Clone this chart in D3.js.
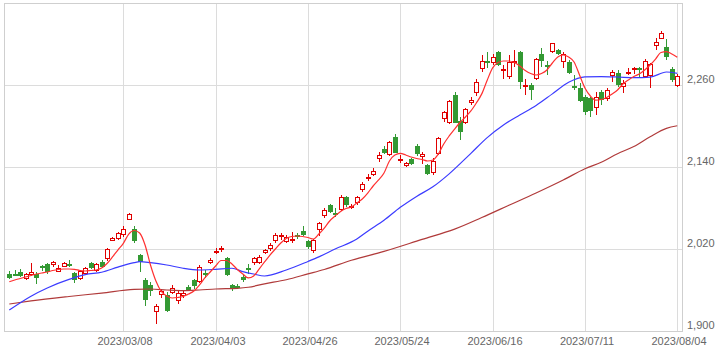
<!DOCTYPE html>
<html>
<head>
<meta charset="utf-8">
<script src="https://cdn.jsdelivr.net/npm/d3@7"></script>
<style>
    body { margin: 0; background: #fff; }
    svg { display: block; }
    .lbl { font-family: "Liberation Sans", Arial, sans-serif; font-size: 11px; fill: #666; }
</style>
</head>
<body>
<svg id="chart" width="720" height="352"></svg>
<script>
// daily OHLC, 2023/02/06 .. 2023/08/04 (one entry per trading day)
const opens = [
    1984, 1984, 1986, 1976, 1982, 1984, 1995, 1998, 1996, 1987,
    1994, 1998, 1985, 1976, 1983, 1999, 1988, 2001, 2005, 2032,
    2034, 2040, 2063, 2049, 2011, 1975, 1967, 1928, 1952, 1953,
    1956, 1944, 1951, 1965, 1974, 1972, 1985, 1999, 2016, 2020,
    2007, 1967, 1966, 1979, 1991.5, 1999, 2000, 2013.7, 2020, 2032,
    2039, 2030, 2031, 2041, 2046, 2031, 2017, 2048, 2069, 2084,
    2072, 2077, 2096, 2081, 2088, 2106, 2124, 2128, 2151, 2167,
    2158, 2184, 2150, 2141.5, 2152, 2171, 2155, 2143, 2131, 2159,
    2210, 2205, 2245, 2208, 2205, 2233, 2249, 2283, 2295, 2292,
    2308, 2281.5, 2272, 2294, 2308, 2258, 2260, 2269, 2305, 2290,
    2308, 2311, 2294, 2293, 2258.5, 2256, 2243, 2240.5, 2227, 2250,
    2239, 2273, 2277, 2256.6, 2278, 2283, 2284.4, 2272.4, 2272.7, 2317,
    2328, 2315.6, 2283, 2259
];
const highs = [
    1988, 1989, 1991, 1985, 1999, 1986, 1997, 1999, 2002, 1996,
    2001, 2004, 1987, 1989, 1994, 2001, 1999, 2004, 2021, 2037,
    2045, 2053, 2072, 2054, 2012, 1977, 1972, 1940, 1962, 1957,
    1967, 1960, 1958, 1968, 1976, 1997, 1989, 2007, 2021, 2024,
    2009, 1969, 1969, 1984, 1998, 2009, 2010.5, 2020.7, 2028.8, 2043.8,
    2043, 2040.5, 2044.4, 2043, 2053.7, 2033.2, 2034.6, 2059.5, 2080, 2086,
    2079.6, 2098.3, 2097.6, 2085.4, 2097.6, 2117.6, 2129.3, 2138.1, 2162, 2170.7,
    2178, 2188.3, 2157.6, 2147.8, 2153.9, 2173.6, 2162.4, 2144.4, 2152.7, 2183.9,
    2222.4, 2238, 2249.3, 2213.6, 2225.9, 2242, 2268.3, 2303.9, 2308.7, 2304.9,
    2309.8, 2289.3, 2303.9, 2310.5, 2309.8, 2268.3, 2262.5, 2299.1, 2313.7, 2295.6,
    2321.9, 2312.7, 2308.7, 2296.6, 2274.6, 2262.2, 2245.4, 2242.9, 2250.2, 2252.7,
    2255.2, 2282, 2282, 2267.3, 2284.4, 2286.8, 2286.3, 2297.6, 2292.6, 2328.3,
    2338.3, 2326.9, 2286.8, 2276.1
];
const lows = [
    1976, 1980, 1979, 1975, 1980, 1969, 1988, 1984, 1994, 1986,
    1993, 1993, 1970, 1975, 1982, 1991, 1986, 1992, 2003, 2031,
    2033, 2038, 2062, 2029, 1987, 1936, 1951, 1910, 1948, 1928,
    1954, 1939, 1949, 1958, 1961, 1970, 1977, 1998, 2012, 2016,
    1980, 1959, 1962, 1971.7, 1984, 1997.3, 1998, 2012, 2017.8, 2029.2,
    2033.2, 2028.3, 2029.5, 2034.2, 2039, 2020, 2014.6, 2039, 2065.8, 2072.7,
    2067.3, 2075.6, 2081.9, 2078.1, 2084.4, 2103.9, 2120, 2126.8, 2146.9, 2159,
    2156.1, 2160, 2146.3, 2139.6, 2142.9, 2156.8, 2144.4, 2128.3, 2128.3, 2157.6,
    2206.3, 2202.9, 2203.7, 2179.5, 2202.2, 2230.7, 2244.3, 2279.5, 2285.6, 2290,
    2287.1, 2268.3, 2269.5, 2286.8, 2253.7, 2245.4, 2237.6, 2267.3, 2286.8, 2274.6,
    2306.1, 2303.2, 2284.4, 2275.4, 2252.7, 2235.1, 2216.1, 2213.2, 2216.1, 2230.7,
    2237.3, 2264.8, 2257.8, 2248.7, 2274.6, 2276.1, 2271.3, 2271.3, 2255.2, 2311.2,
    2326.6, 2296.6, 2263.9, 2256.6
];
const closes = [
    1978, 1983, 1981, 1983, 1986, 1977, 1992, 1986, 2001, 1992,
    1999, 1996, 1975, 1988, 1992, 1992, 1998, 1994, 2020, 2036,
    2044, 2050, 2071, 2031, 2001, 1946, 1959, 1937, 1959, 1929,
    1963, 1956, 1956, 1959, 1966, 1994, 1983, 2004, 2017, 2022,
    1982, 1961, 1964, 1974.6, 1990, 2006.8, 2007.9, 2018.5, 2025.9, 2040,
    2040.5, 2038, 2035, 2037.1, 2040.5, 2023.4, 2033.2, 2057.6, 2077.8, 2074.6,
    2070.2, 2096.5, 2084.4, 2082.9, 2095.7, 2114.7, 2125.8, 2134.6, 2157.1, 2160.9,
    2176.1, 2160.9, 2151.3, 2145.9, 2144.8, 2159, 2158.6, 2130.2, 2148.3, 2182,
    2220, 2236.1, 2205.1, 2190.5, 2224.6, 2238, 2264.8, 2294.7, 2292.6, 2300.5,
    2289.3, 2283, 2294.1, 2295.6, 2263.7, 2259.6, 2252.7, 2297.6, 2295.4, 2288.2,
    2321, 2305.8, 2305.7, 2277.1, 2255.2, 2236.6, 2220.9, 2222, 2242, 2238,
    2253.4, 2279, 2260, 2262.9, 2279.7, 2284.4, 2282, 2294.4, 2290.3, 2322.9,
    2336.8, 2301.4, 2267.3, 2273.6
];

// 5-day moving average, one value per trading day
const ma5 = [
    1972.1, 1974.6, 1976.8, 1979, 1981.2, 1983.4, 1984.9, 1986.3, 1988.5, 1990,
    1990.7, 1990.7, 1990.3, 1988.5, 1987.8, 1988.5, 1989.3, 1992.2, 1998.8, 2008.3,
    2018.5, 2028.3, 2041.9, 2047.1, 2043.4, 2025.9, 1996.6, 1973.2, 1957.8, 1951.2,
    1948.3, 1949, 1950.5, 1954.1, 1958.5, 1967.3, 1977.6, 1986.3, 1995.1, 2003.2,
    2003.2, 1998, 1990, 1983.4, 1977.6, 1980.5, 1990.7, 2001, 2011.2, 2020,
    2028.8, 2035.4, 2038.3, 2039, 2038.3, 2036.8, 2034.6, 2041.9, 2050.7, 2061,
    2068.3, 2074.9, 2079.3, 2081.5, 2087.3, 2093.2, 2101.9, 2112.2, 2121, 2131.2,
    2148.8, 2157.6, 2160, 2157.6, 2154.6, 2152.4, 2151, 2148.8, 2150.2, 2159,
    2173.7, 2185.4, 2195.6, 2205.1, 2213.2, 2222, 2233.7, 2247, 2267, 2285,
    2293, 2295.1, 2295.1, 2292.9, 2287.8, 2281.2, 2276.8, 2274.6, 2276.8, 2282,
    2292.2, 2301, 2303.9, 2301, 2293.7, 2274.6, 2255.6, 2243.9, 2238, 2238.8,
    2241.7, 2246.8, 2252.7, 2261.5, 2267.3, 2272.4, 2276.1, 2282, 2289.3, 2298,
    2307.6, 2308.7, 2305.4, 2300.5
];
// 25-day and 75-day averages, read at these trading-day positions
const ma25Day = [0, 4, 7, 11, 14, 17, 20, 23, 24, 26, 29, 32, 35, 38, 41, 43, 45, 47, 51, 55, 57, 60, 64, 66, 69,
    72, 75, 78, 81, 85, 88, 91, 94, 97, 100, 103, 106, 109, 112, 115, 118, 121, 123];
const ma25 = [1930.7, 1951, 1963, 1975.5, 1982.5, 1986, 1993.5, 2000, 2001.4, 2000, 1996.6, 1991.8, 1989.3, 1990.3, 1991.8,
    1987, 1983.4, 1980.5, 1989.3, 2001.8, 2008.5, 2020, 2034.6, 2046, 2062,
    2081, 2097, 2111, 2130, 2160, 2183, 2201.5, 2216, 2230, 2247, 2264, 2272, 2272.4, 2271.7, 2270.7, 2271.5, 2279, 2277];
const ma75Day = [0, 4, 11, 17, 23, 26, 29, 32, 35, 38, 42, 44, 47, 51, 55, 58, 63, 69, 76, 82, 87, 92, 97, 102,
    106, 109, 112, 115, 118, 121, 123];
const ma75 = [1939.5, 1944, 1950.5, 1955.5, 1961, 1961.5, 1960, 1959, 1960, 1961.5, 1962.5, 1964, 1969, 1975, 1983.5,
    1990, 2003.5, 2016.5, 2034, 2049, 2066, 2084, 2102, 2121,
    2137.5, 2147, 2159.5, 2170, 2184.3, 2196.6, 2200.4];

const holidays = ['2023-02-23', '2023-03-21', '2023-05-03', '2023-05-04', '2023-05-05', '2023-07-17'];
const xTicks = ['2023/03/08', '2023/04/03', '2023/04/26', '2023/05/24', '2023/06/16', '2023/07/11', '2023/08/04'];
const yTicks = [1900, 2020, 2140, 2260];

const fmtKey = d3.timeFormat('%Y-%m-%d');
const fmtTick = d3.timeFormat('%Y/%m/%d');
const dates = d3.timeDays(new Date(2023, 1, 6), new Date(2023, 7, 5))
    .filter(d => d.getDay() % 6 !== 0 && !holidays.includes(fmtKey(d)));

const plot = {left: 4.5, right: 682.7, top: 3, bottom: 331};

const x = d3.scaleLinear()
    .domain([-0.88, dates.length])
    .range([plot.left, plot.right]);
const y = d3.scaleLinear()
    .domain([1900, 2380])
    .range([plot.bottom, plot.top]);

const px = i => Math.round(x(i)) + 0.5;
const py = v => Math.round(y(v));

const svg = d3.select('#chart');

// grid
const grid = svg.append('g');
grid.selectAll('line.h')
    .data(yTicks.slice(1)).join('line')
    .attr('x1', 4.5).attr('x2', 682.5)
    .attr('y1', d => py(d) + 0.5).attr('y2', d => py(d) + 0.5)
    .attr('stroke', '#dcdcdc');
const tickIdx = xTicks.map(t => dates.findIndex(d => fmtTick(d) === t));
grid.selectAll('line.v')
    .data(tickIdx).join('line')
    .attr('x1', d => px(d)).attr('x2', d => px(d))
    .attr('y1', 3.5).attr('y2', 331.5)
    .attr('stroke', '#dcdcdc');
svg.append('rect')
    .attr('x', 4.5).attr('y', 3.5)
    .attr('width', 678).attr('height', 328)
    .attr('fill', 'none')
    .attr('stroke', '#cfcfcf');

// candles
const g = svg.append('g')
    .selectAll('g')
    .data(dates).join('g');
g.append('line')
    .attr('x1', (d, i) => px(i)).attr('x2', (d, i) => px(i))
    .attr('y1', (d, i) => py(highs[i])).attr('y2', (d, i) => py(lows[i]))
    .attr('stroke', (d, i) => closes[i] >= opens[i] ? '#e00000' : '#339933');
g.append('rect')
    .attr('x', (d, i) => closes[i] >= opens[i] ? px(i) - 2 : px(i) - 2.5)
    .attr('y', (d, i) => closes[i] >= opens[i] ? py(closes[i]) + 0.5 : py(opens[i]))
    .attr('width', (d, i) => closes[i] >= opens[i] ? 4 : 5)
    .attr('height', (d, i) => {
        const h = Math.abs(py(opens[i]) - py(closes[i]));
        return closes[i] >= opens[i] ? Math.max(h - 1, 1) : Math.max(h, 2);
    })
    .attr('fill', (d, i) => closes[i] >= opens[i] ? '#fff' : '#339933')
    .attr('stroke', (d, i) => closes[i] >= opens[i] ? '#e00000' : 'none');

// moving averages
const line = d3.line().curve(d3.curveMonotoneX);
svg.append('path')
    .attr('d', line(ma75.map((v, k) => [x(ma75Day[k]), y(v)])))
    .attr('fill', 'none').attr('stroke', '#b03a3a').attr('stroke-width', 1.2);
svg.append('path')
    .attr('d', line(ma25.map((v, k) => [x(ma25Day[k]), y(v)])))
    .attr('fill', 'none').attr('stroke', '#3b3bff').attr('stroke-width', 1.2);
svg.append('path')
    .attr('d', line(ma5.map((v, i) => [x(i), y(v)])))
    .attr('fill', 'none').attr('stroke', '#ff3030').attr('stroke-width', 1.2);

// labels
svg.append('g').selectAll('text')
    .data(yTicks).join('text')
    .attr('class', 'lbl')
    .attr('x', 687)
    .attr('y', d => y(d) - 2.5)
    .text(d => d3.format(',')(d));
svg.append('g').selectAll('text')
    .data(xTicks).join('text')
    .attr('class', 'lbl')
    .attr('text-anchor', 'middle')
    .attr('x', (d, k) => px(tickIdx[k]) + 1.5)
    .attr('y', 345)
    .text(d => d);
</script>
</body>
</html>
